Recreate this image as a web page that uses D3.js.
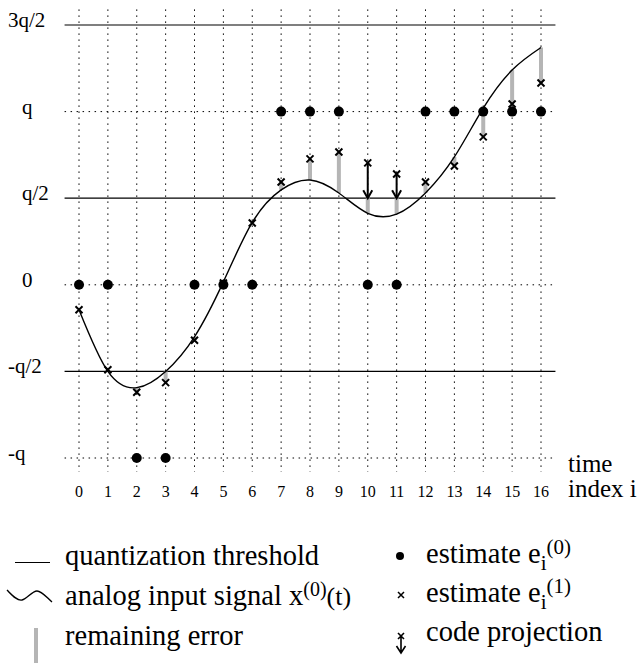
<!DOCTYPE html>
<meta charset="utf-8">
<head>
  <title>Quantization estimates</title>
</head>

<style>
body { margin: 0; background: #fff; }
svg text {
  font-family: "Liberation Serif", "Times New Roman", Times, serif;
  fill: black;
}
.grid { stroke: #000; stroke-width: 1; stroke-dasharray: 1.5,4.5; }
.thresh { stroke: #000; stroke-width: 1.2; }
.err { stroke: #b5b5b5; stroke-width: 4; }
.signal { fill: none; stroke: #000; stroke-width: 1.4; }
.cross { stroke: #000; stroke-width: 2; }
.arrow { stroke: #000; stroke-width: 2; fill: none; }
</style>

<body>
  <svg width="641" height="664" font-family="Liberation Serif, Times New Roman, serif">
    <g class="chart"></g>
    <g class="legend"></g>
  </svg>

  <script src="https://cdnjs.cloudflare.com/ajax/libs/d3/7.8.5/d3.min.js"></script>
  <script>

  // time index i = 0..16
  var index = d3.range(0, 17);
  // analog input x(0)(t) sampled at each index, in units of q
  var signal = [-0.144, -0.50, -0.594, -0.50, -0.30, 0.017, 0.36, 0.548, 0.605,
                0.53, 0.413, 0.408, 0.53, 0.738, 1.02, 1.24, 1.37];
  // estimate e_i(0) (dots)
  var estimate0 = [0, 0, -1, -1, 0, 0, 0, 1, 1, 1, 0, 0, 1, 1, 1, 1, 1];
  // estimate e_i(1) (crosses)
  var estimate1 = [-0.144, -0.49, -0.62, -0.565, -0.32, 0.01, 0.357, 0.594, 0.727,
                   0.767, 0.704, 0.64, 0.594, 0.686, 0.854, 1.044, 1.165];
  // code projection: index -> projected value
  var projIndex = [10, 11];
  var projTarget = [0.5, 0.5];

  var thresholds = [-0.5, 0.5, 1.5];
  var levels = [-1, 0, 1];
  var yTickValues = [-1, -0.5, 0, 0.5, 1, 1.5];
  var yTickLabels = ["-q", "-q/2", "0", "q/2", "q", "3q/2"];

  var x = d3.scaleLinear().domain([0, 16]).range([79, 541]);
  var y = d3.scaleLinear().domain([-1, 1.5]).range([458, 25]);

  var g = d3.select('svg g.chart');

  // vertical dotted grid
  g.selectAll('line.vgrid')
    .data(index)
    .enter()
    .append('line')
    .attr('class', 'grid')
    .attr('x1', function(d) { return x(d); })
    .attr('x2', function(d) { return x(d); })
    .attr('y1', y(1.59))
    .attr('y2', y(-1.08));

  // horizontal dotted levels
  g.selectAll('line.hgrid')
    .data(levels)
    .enter()
    .append('line')
    .attr('class', 'grid')
    .attr('x1', x(-0.5))
    .attr('x2', x(16.5))
    .attr('y1', function(d) { return y(d); })
    .attr('y2', function(d) { return y(d); });

  // quantization thresholds
  g.selectAll('line.thresh')
    .data(thresholds)
    .enter()
    .append('line')
    .attr('class', 'thresh')
    .attr('x1', x(-0.5))
    .attr('x2', x(16.5))
    .attr('y1', function(d) { return y(d); })
    .attr('y2', function(d) { return y(d); });

  // y labels
  g.selectAll('text.ylab')
    .data(yTickValues)
    .enter()
    .append('text')
    .attr('x', function(d, i) {
      var s = yTickLabels[i];
      return (s[0] === '-' || s[0] === '3') ? 8 : 22;
    })
    .attr('y', function(d) { return y(d) + 2; })
    .style('font-size', '21px')
    .text(function(d, i) { return yTickLabels[i]; });

  // x tick labels
  g.selectAll('text.xlab')
    .data(index)
    .enter()
    .append('text')
    .attr('x', function(d) { return x(d); })
    .attr('y', 497)
    .attr('text-anchor', 'middle')
    .style('font-size', '16px')
    .text(function(d) { return d; });

  g.append('text').attr('x', 568).attr('y', 472).style('font-size', '25px').text('time');
  g.append('text').attr('x', 568).attr('y', 497).style('font-size', '25px').text('index i');

  // remaining error bars
  function errTop(i) {
    var k = projIndex.indexOf(i);
    return k >= 0 ? projTarget[k] : estimate1[i];
  }
  g.selectAll('line.err')
    .data(index)
    .enter()
    .append('line')
    .attr('class', 'err')
    .attr('x1', function(d) { return x(d); })
    .attr('x2', function(d) { return x(d); })
    .attr('y1', function(d) { return y(errTop(d)); })
    .attr('y2', function(d) { return y(signal[d]); });

  // analog signal
  var line = d3.line()
    .x(function(d) { return x(d); })
    .y(function(d) { return y(signal[d]); })
    .curve(d3.curveNatural);
  g.append('path').attr('class', 'signal').attr('d', line(index));

  // code projection arrows
  projIndex.forEach(function(i, k) {
    var px = x(i), y0 = y(estimate1[i]), y1 = y(projTarget[k]);
    g.append('line').attr('class', 'arrow')
      .attr('x1', px).attr('x2', px).attr('y1', y0).attr('y2', y1);
    g.append('path').attr('class', 'arrow')
      .attr('d', 'M' + (px - 4.5) + ',' + (y1 - 8) + 'L' + px + ',' + y1 + 'L' + (px + 4.5) + ',' + (y1 - 8));
  });

  // crosses
  var cs = 3.5;
  g.selectAll('path.cross')
    .data(index)
    .enter()
    .append('path')
    .attr('class', 'cross')
    .attr('d', function(d) {
      var cx = x(d), cy = y(estimate1[d]);
      return 'M' + (cx - cs) + ',' + (cy - cs) + 'L' + (cx + cs) + ',' + (cy + cs) +
             'M' + (cx - cs) + ',' + (cy + cs) + 'L' + (cx + cs) + ',' + (cy - cs);
    });

  // dots
  g.selectAll('circle.dot')
    .data(index)
    .enter()
    .append('circle')
    .attr('cx', function(d) { return x(d); })
    .attr('cy', function(d) { return y(estimate0[d]); })
    .attr('r', 5)
    .attr('fill', '#000');

  // legend
  var lg = d3.select('svg g.legend');
  var fs = '28.5px', fsSmall = '21px';

  lg.append('line').attr('x1', 15).attr('x2', 50).attr('y1', 562.5).attr('y2', 562.5)
    .attr('stroke', '#000').attr('stroke-width', 1.2);
  lg.append('text').attr('x', 65).attr('y', 565).style('font-size', fs).text('quantization threshold');

  lg.append('path').attr('class', 'signal')
    .attr('d', 'M7,590 C12,595 17,601 22,600 C27,599 32,591 37,591 C42,591 47,598 52,602');
  var t2 = lg.append('text').attr('x', 65).attr('y', 605).style('font-size', fs);
  t2.append('tspan').text('analog input signal x');
  t2.append('tspan').attr('dy', -9).style('font-size', '20px').text('(0)');
  t2.append('tspan').attr('dy', 9).style('font-size', '26px').text('(t)');

  lg.append('line').attr('class', 'err').attr('x1', 36).attr('x2', 36).attr('y1', 628).attr('y2', 663);
  lg.append('text').attr('x', 65).attr('y', 645).style('font-size', fs).text('remaining error');

  lg.append('circle').attr('cx', 400).attr('cy', 556).attr('r', 4).attr('fill', '#000');
  var t4 = lg.append('text').attr('x', 426).attr('y', 563).style('font-size', fs);
  t4.append('tspan').text('estimate e');
  t4.append('tspan').attr('dy', 7).style('font-size', fsSmall).text('i');
  t4.append('tspan').attr('dy', -16).style('font-size', fsSmall).text('(0)');

  lg.append('path').attr('stroke', '#000').attr('stroke-width', 1.5)
    .attr('d', 'M398,592L404,598M398,598L404,592');
  var t5 = lg.append('text').attr('x', 426).attr('y', 602).style('font-size', fs);
  t5.append('tspan').text('estimate e');
  t5.append('tspan').attr('dy', 7).style('font-size', fsSmall).text('i');
  t5.append('tspan').attr('dy', -16).style('font-size', fsSmall).text('(1)');

  lg.append('path').attr('stroke', '#000').attr('stroke-width', 1.6).attr('fill', 'none')
    .attr('d', 'M398,633L404,639M398,639L404,633M401,636L401,653M396.5,646L401,653L405.5,646');
  lg.append('text').attr('x', 426).attr('y', 641).style('font-size', fs).text('code projection');

  </script>
</body>
</html>
